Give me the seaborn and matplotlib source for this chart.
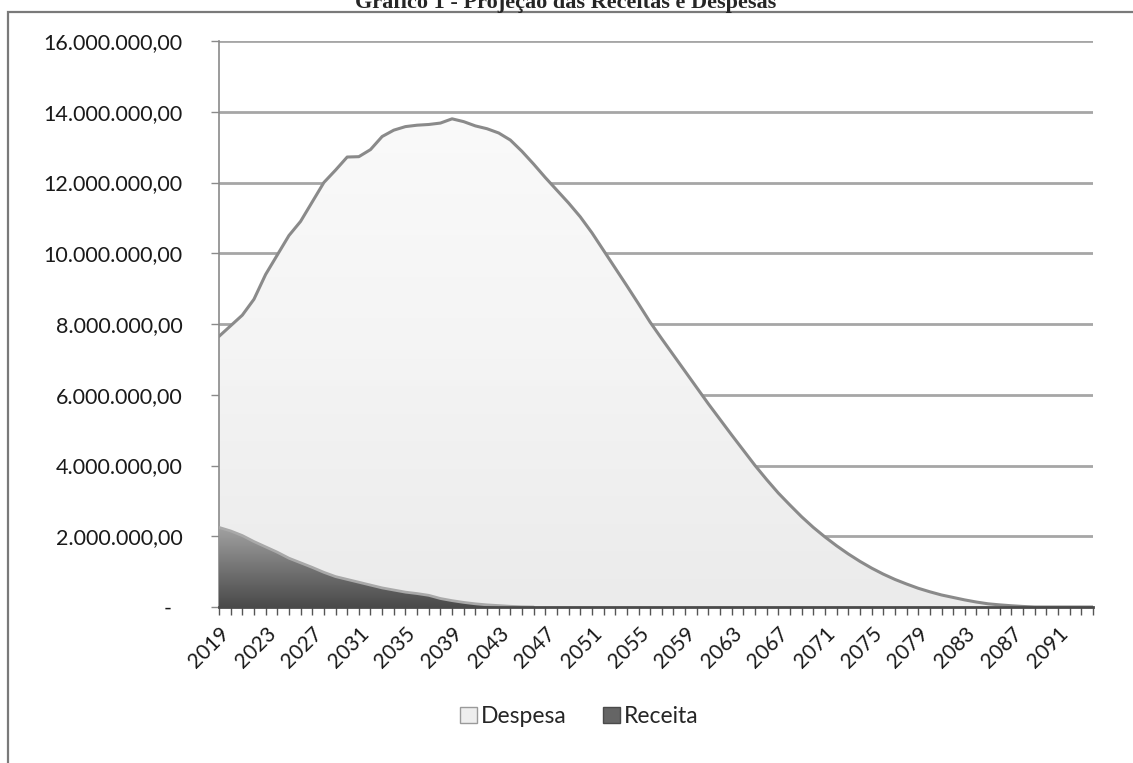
"""
Gráfico 1 - Projeção das Receitas e Despesas
Area chart (Despesa vs Receita), 2019-2094, saved to out.png
"""

import numpy as np
import pandas as pd
import matplotlib
matplotlib.use("Agg")  # no display
import matplotlib.pyplot as plt
import seaborn as sns
from matplotlib.patches import Rectangle, Patch
from matplotlib.ticker import FuncFormatter, FixedLocator, MultipleLocator
from matplotlib.colors import LinearSegmentedColormap

# Data (values in millions)
years = list(range(2019, 2095))
despesa_mi = [
    7.65, 7.95, 8.25, 8.70, 9.40, 9.95, 10.50, 10.90, 11.45, 12.00,
    12.35, 12.72, 12.73, 12.93, 13.30, 13.48, 13.58, 13.62, 13.64, 13.68,
    13.80, 13.72, 13.60, 13.52, 13.40, 13.20, 12.88, 12.52, 12.14, 11.78,
    11.42, 11.03, 10.58, 10.08, 9.58, 9.08, 8.57, 8.05, 7.58, 7.12,
    6.66, 6.20, 5.74, 5.30, 4.86, 4.43, 4.00, 3.60, 3.22, 2.88,
    2.55, 2.25, 1.98, 1.73, 1.50, 1.29, 1.10, 0.93, 0.78, 0.65,
    0.53, 0.43, 0.34, 0.27, 0.20, 0.14, 0.09, 0.06, 0.035, 0.015,
    0.0, 0.0, 0.0, 0.0, 0.0, 0.0,
]
receita_mi = [
    2.25, 2.15, 2.02, 1.85, 1.70, 1.55, 1.38, 1.25, 1.12, 0.98,
    0.86, 0.78, 0.70, 0.62, 0.54, 0.48, 0.42, 0.38, 0.33, 0.24,
    0.18, 0.13, 0.09, 0.06, 0.04, 0.02, 0.005, 0.0, 0.0, 0.0,
] + [0.0] * 46
label_years = list(range(2019, 2095, 4))
y_ticks = [0, 2e6, 4e6, 6e6, 8e6, 10e6, 12e6, 14e6, 16e6]

df = pd.DataFrame({
    "ano": years,
    "Despesa": np.array(despesa_mi) * 1e6,
    "Receita": np.array(receita_mi) * 1e6,
})

sns.set_style("white")
plt.rcParams["font.family"] = ["Lato", "DejaVu Sans"]


def br_money(v, pos=None):
    # accounting style: zero shows as a dash
    if abs(v) < 1:
        return "-  "
    s = f"{v:,.2f}"
    return s.replace(",", "X").replace(".", ",").replace("X", ".")


def gradient_area(ax, x, y, colors, ytop, zorder):
    """fill under y with a vertical gradient clipped to the area"""
    poly = ax.fill_between(x, y, 0, facecolor="none", lw=0, zorder=zorder)
    path = poly.get_paths()[0]
    cmap = LinearSegmentedColormap.from_list("g", colors)
    grad = np.linspace(0, 1, 256).reshape(-1, 1)
    im = ax.imshow(grad, extent=[x[0], x[-1], 0, ytop], origin="lower",
                   aspect="auto", cmap=cmap, zorder=zorder, interpolation="bilinear")
    im.set_clip_path(path, transform=ax.transData)
    return im


fig = plt.figure(figsize=(11.33, 7.63), dpi=100)
ax = fig.add_axes([219 / 1133, 1 - 607 / 763, (1093 - 219) / 1133, (607 - 41) / 763])

x = df["ano"].to_numpy()

# areas (gradients), then outlines with seaborn
gradient_area(ax, x, df["Despesa"].to_numpy(), ["#ebebeb", "#f4f4f4", "#fafafa"], 14e6, 2)
gradient_area(ax, x, df["Receita"].to_numpy(), ["#4a4a4a", "#767676", "#a4a4a4"], 2.3e6, 3)

sns.lineplot(data=df, x="ano", y="Despesa", ax=ax, color="#8a8a8a", lw=2.2, zorder=4)
sns.lineplot(data=df[df["ano"] <= 2046], x="ano", y="Receita", ax=ax,
             color="#a9a9a9", lw=2.0, zorder=4)

ax.set_xlim(2019, 2094)
ax.set_ylim(0, 16e6)
ax.set_xlabel("")
ax.set_ylabel("")

# gridlines (hidden behind the areas)
ax.yaxis.grid(True, color="#a6a6a6", lw=2.0, zorder=1)
ax.set_axisbelow(True)

ax.yaxis.set_major_locator(FixedLocator(y_ticks))
ax.yaxis.set_major_formatter(FuncFormatter(br_money))
ax.xaxis.set_major_locator(FixedLocator(label_years))
ax.xaxis.set_minor_locator(MultipleLocator(1))
ax.set_xticklabels([str(a) for a in label_years], rotation=45, ha="right",
                   rotation_mode="anchor", fontsize=15, color="#1a1a1a")
ax.tick_params(axis="y", labelsize=15.5, colors="#1a1a1a", length=6, width=1,
               color="#8a8a8a", pad=20, left=True)
ax.tick_params(axis="x", which="both", length=6, width=1, color="#555555",
               bottom=True, pad=6)

for side in ["top", "right"]:
    ax.spines[side].set_visible(False)
ax.spines["left"].set_color("#8a8a8a")
ax.spines["left"].set_linewidth(1.2)
ax.spines["bottom"].set_color("#4a4a4a")
ax.spines["bottom"].set_linewidth(2.0)
ax.spines["bottom"].set_zorder(5)

# legend below the plot
handles = [
    Patch(facecolor="#eeeeee", edgecolor="#9a9a9a", label="Despesa"),
    Patch(facecolor="#656565", edgecolor="#4a4a4a", label="Receita"),
]
fig.legend(handles=handles, loc="center", bbox_to_anchor=(0.511, 0.061), ncol=2,
           frameon=False, fontsize=16.5, handlelength=0.75, handleheight=0.75,
           handletextpad=0.15, columnspacing=1.6)

# chart frame (its right side lies past the edge) and the clipped title above it
fig.patches.append(Rectangle((8 / 1133, -0.02), 1.0, 1.02 - 12 / 763,
                             transform=fig.transFigure, fill=False,
                             edgecolor="#7a7a7a", lw=1.6))
fig.text(566 / 1133, 1 - 8 / 763, "Gráfico 1 - Projeção das Receitas e Despesas",
         ha="center", va="baseline", fontsize=16, fontweight="bold",
         family=["Liberation Serif", "DejaVu Serif"])

fig.savefig("out.png", dpi=100)
plt.close(fig)
